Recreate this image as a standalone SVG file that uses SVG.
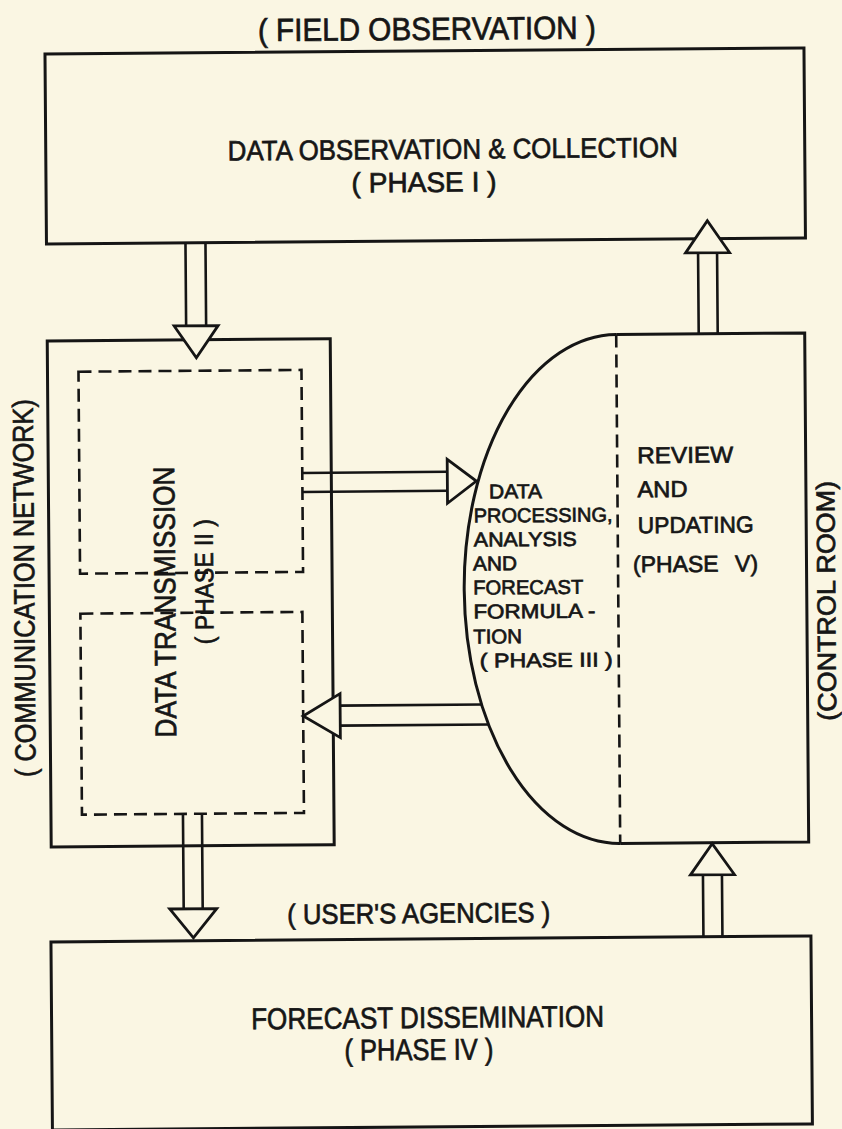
<svg xmlns="http://www.w3.org/2000/svg" width="842" height="1129" viewBox="0 0 842 1129">
<style>
.box{fill:none;stroke:#151515;stroke-width:3}
.dash{fill:none;stroke:#151515;stroke-width:2.6;stroke-dasharray:13 7}
.shaft{fill:none;stroke:#151515;stroke-width:2.6}
.head{fill:#faf6e3;stroke:#151515;stroke-width:2.8}
.lbl{font-family:"Liberation Sans",Arial,sans-serif;fill:#161616;stroke:#161616;stroke-width:0.7}
.c{text-anchor:middle}
.big{font-size:28px}
.big2{font-size:30px}
.mid{font-size:20px}
.v{font-size:23px}
</style>
<rect width="842" height="1129" fill="#faf6e3"/>
<g transform="rotate(-0.45 421 564)">
  <g id="phase1-data-observation">
    <text class="lbl c" style="font-size:32px" x="431" y="40" textLength="338" lengthAdjust="spacingAndGlyphs">( FIELD OBSERVATION )</text>
    <rect class="box" x="49" y="51" width="759" height="190"/>
    <text class="lbl c big" x="456" y="159" textLength="450" lengthAdjust="spacingAndGlyphs">DATA OBSERVATION &amp; COLLECTION</text>
    <text class="lbl c big" x="427" y="192" textLength="145" lengthAdjust="spacingAndGlyphs">( PHASE I )</text>
  </g>
  <g id="phase2-communication-network">
    <rect class="box" x="49" y="338" width="283" height="506"/>
    <rect class="dash" x="80" y="369" width="223" height="202"/>
    <rect class="dash" x="80" y="611" width="222" height="201"/>
    <text class="lbl c" style="font-size:29px" transform="translate(34 585) rotate(-90)" textLength="378" lengthAdjust="spacingAndGlyphs">( COMMUNICATION NETWORK)</text>
    <text class="lbl c" style="font-size:30px" transform="translate(175 600) rotate(-90)" textLength="271" lengthAdjust="spacingAndGlyphs">DATA TRANSMISSION</text>
    <text class="lbl c" style="font-size:26px" transform="translate(213 580) rotate(-90)" textLength="125" lengthAdjust="spacingAndGlyphs">( PHASE II )</text>
  </g>
  <g id="control-room">
    <path class="box" d="M618 336 A154 254.5 0 0 0 618 845"/>
    <path class="box" d="M618 336 H806.5 V845 H618"/>
    <path class="dash" d="M618 336 V845"/>
    <g id="phase3-processing">
      <text class="lbl mid" x="489.5" y="499" textLength="53" lengthAdjust="spacingAndGlyphs">DATA</text>
      <text class="lbl mid" x="474" y="523" textLength="139" lengthAdjust="spacingAndGlyphs">PROCESSING,</text>
      <text class="lbl mid" x="474" y="547" textLength="103" lengthAdjust="spacingAndGlyphs">ANALYSIS</text>
      <text class="lbl mid" x="473" y="571" textLength="44" lengthAdjust="spacingAndGlyphs">AND</text>
      <text class="lbl mid" x="473" y="595" textLength="110" lengthAdjust="spacingAndGlyphs">FORECAST</text>
      <text class="lbl mid" x="473" y="619" textLength="122" lengthAdjust="spacingAndGlyphs">FORMULA -</text>
      <text class="lbl mid" x="472.5" y="644" textLength="49" lengthAdjust="spacingAndGlyphs">TION</text>
      <text class="lbl mid" x="479" y="668" textLength="133" lengthAdjust="spacingAndGlyphs">( PHASE III )</text>
    </g>
    <g id="phase5-review">
      <text class="lbl v" x="638" y="465" textLength="96" lengthAdjust="spacingAndGlyphs">REVIEW</text>
      <text class="lbl v" x="638" y="499" textLength="50" lengthAdjust="spacingAndGlyphs">AND</text>
      <text class="lbl v" x="638" y="535" textLength="116" lengthAdjust="spacingAndGlyphs">UPDATING</text>
      <text class="lbl v" x="633" y="574">(PHASE <tspan x="735">V)</tspan></text>
    </g>
    <text class="lbl c" style="font-size:26px" transform="translate(835 604) rotate(-90)" textLength="240" lengthAdjust="spacingAndGlyphs">(CONTROL ROOM)</text>
  </g>
  <g id="phase4-forecast-dissemination">
    <text class="lbl c big" x="416" y="923" textLength="263" lengthAdjust="spacingAndGlyphs">( USER'S AGENCIES )</text>
    <rect class="box" x="48" y="939" width="760" height="188"/>
    <text class="lbl c big2" x="424" y="1028" textLength="353" lengthAdjust="spacingAndGlyphs">FORECAST DISSEMINATION</text>
    <text class="lbl c big2" x="415" y="1060" textLength="149" lengthAdjust="spacingAndGlyphs">( PHASE IV )</text>
  </g>
  <g id="connectors">
    <path class="shaft" d="M188 241 V324 M208 241 V324"/>
    <polygon class="head" points="176,324 220,324 198,356"/>
    <path class="shaft" d="M303 472 H448 M303 491 H448"/>
    <polygon class="head" points="448,459.5 448,503.5 477,481.5"/>
    <path class="shaft" d="M339 705 H481 M339 725 H487.5"/>
    <polygon class="head" points="339,693 339,737 302,715"/>
    <path class="shaft" d="M700.5 336 V255 M719.5 336 V255"/>
    <polygon class="head" points="688,255 732,255 710,223"/>
    <path class="shaft" d="M181 812 V907 M200 812 V907"/>
    <polygon class="head" points="167,907 214,907 190.5,936"/>
    <path class="shaft" d="M700.5 939 V877 M719.5 939 V877"/>
    <polygon class="head" points="688,877 732,877 710,846"/>
  </g>
</g>
</svg>
